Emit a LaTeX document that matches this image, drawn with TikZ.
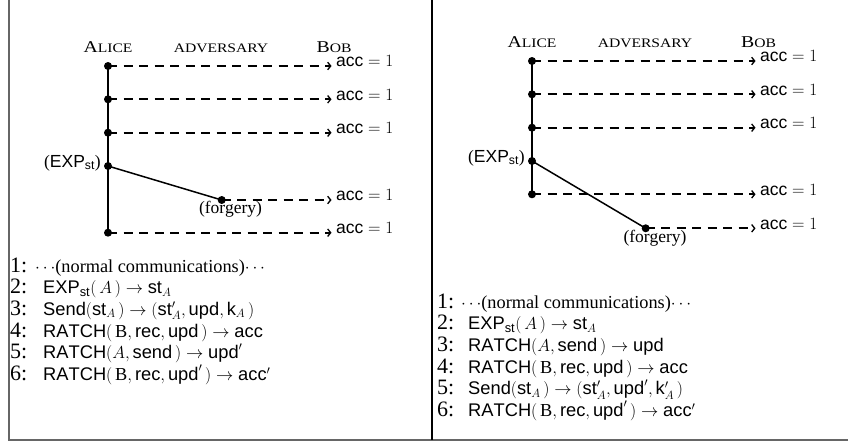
\documentclass[tikz,border=0pt]{standalone}
\usepackage{fontspec}
\setmainfont{Liberation Serif}
\setsansfont{Liberation Sans}
\usetikzlibrary{arrows.meta}

% role headings in (imitated) small capitals
\newcommand{\capbig}[1]{{\fontsize{16.5}{16.5}\selectfont #1}}
\newcommand{\capsmall}[1]{{\fontsize{13}{13}\selectfont #1}}
\newcommand{\rolename}[1]{\scalebox{1.2}[1]{#1}}

\begin{document}
\begin{tikzpicture}[x=1pt,y=-1pt,
  every node/.style={inner sep=0pt},
  dot/.style={circle,fill=black,inner sep=0pt,minimum size=8pt},
  role/.style={anchor=base},
  msg/.style={line width=1.7pt,dash pattern=on 9pt off 6.5pt,
              -{Straight Barb[length=3pt,width=7.5pt,line width=1.3pt]},shorten >=4.5pt},
  life/.style={line width=2pt},
  leak/.style={line width=1.5pt},
  accl/.style={anchor=base west,font=\fontsize{17.5}{20}\selectfont},
  evt/.style={font=\fontsize{17.5}{20}\selectfont},
  num/.style={anchor=base west,font=\fontsize{22}{22}\selectfont},
  line/.style={anchor=base west,font=\fontsize{18.3}{21}\selectfont}]
\useasboundingbox (0,0) rectangle (848,442);

% frame
\coordinate (fTL) at (8.5,0);
\coordinate (fBL) at (8.5,440);
\coordinate (fBR) at (848,440);
\coordinate (fTM) at (432,0);
\coordinate (fBM) at (432,440);
\draw[line width=2pt,black!60] (fTL) -- (fBL) -- (fBR);
\draw[line width=1.2pt] (fTM) -- (fBM);

% ---------------- left panel ----------------
\node[role] (Lal) at (108,52) {\rolename{\capbig{A}\capsmall{LICE}}};
\node[role] (Lad) at (221,52) {\rolename{\capsmall{ADVERSARY}}};
\node[role] (Lbo) at (334,52) {\rolename{\capbig{B}\capsmall{OB}}};

\node[dot] (L1) at (108,66) {};
\node[dot] (L2) at (108,99.3) {};
\node[dot] (L3) at (108,132.7) {};
\node[dot] (L4) at (108,166) {};
\node[dot] (L5) at (108,232.7) {};
\node[dot] (Lf) at (221.7,200) {};

\node[accl] (La1) at (336,66.7) {$\mathsf{acc}=1$};
\node[accl] (La2) at (336,100) {$\mathsf{acc}=1$};
\node[accl] (La3) at (336,133.4) {$\mathsf{acc}=1$};
\node[accl] (Laf) at (336,200.7) {$\mathsf{acc}=1$};
\node[accl] (La5) at (336,233.4) {$\mathsf{acc}=1$};

\node[evt,anchor=base east] (Lexp) at (101,167) {($\mathsf{EXP}_{\mathsf{st}}$)};
\node[evt,anchor=base] (Lforg) at (230.5,213.5) {(forgery)};

\draw[life] (L1.center) -- (L5.center);
\draw[leak] (L4.center) -- (Lf.center);
\foreach \d/\a in {L1/La1,L2/La2,L3/La3,Lf/Laf,L5/La5}
  \draw[msg] (\d.center) -- (\d -| \a.west);

% ---------------- right panel ----------------
\node[role] (Ral) at (532,47) {\rolename{\capbig{A}\capsmall{LICE}}};
\node[role] (Rad) at (645,47) {\rolename{\capsmall{ADVERSARY}}};
\node[role] (Rbo) at (758.5,47) {\rolename{\capbig{B}\capsmall{OB}}};

\node[dot] (R1) at (532,61) {};
\node[dot] (R2) at (532,94.3) {};
\node[dot] (R3) at (532,127.7) {};
\node[dot] (R4) at (532,161) {};
\node[dot] (R5) at (532,194.3) {};
\node[dot] (Rf) at (645.7,228.3) {};

\node[accl] (Ra1) at (760,61.7) {$\mathsf{acc}=1$};
\node[accl] (Ra2) at (760,95) {$\mathsf{acc}=1$};
\node[accl] (Ra3) at (760,128.4) {$\mathsf{acc}=1$};
\node[accl] (Ra5) at (760,195) {$\mathsf{acc}=1$};
\node[accl] (Raf) at (760,229) {$\mathsf{acc}=1$};

\node[evt,anchor=base east] (Rexp) at (525,162) {($\mathsf{EXP}_{\mathsf{st}}$)};
\node[evt,anchor=base] (Rforg) at (655,242) {(forgery)};

\draw[life] (R1.center) -- (R5.center);
\foreach \d/\a in {R1/Ra1,R2/Ra2,R3/Ra3,R5/Ra5,Rf/Raf}
  \draw[msg] (\d.center) -- (\d -| \a.west);
\draw[leak] (R4.center) -- (Rf.center);

% ---------------- step lists ----------------
\foreach \k/\y in {1/272,2/293.7,3/315.4,4/337.1,5/358.8,6/380.5}
  \node[num] (Ln\k) at (10,\y) {\k:};
\node[line] (Ls1) at (35,272) {$\cdots$(normal communications)$\cdots$};
\node[line] (Ls2) at (43,293.7) {$\mathsf{EXP}_{\mathsf{st}}(\,A\,)\rightarrow\mathsf{st}_{A}$};
\node[line] (Ls3) at (43,315.4) {$\mathsf{Send}(\mathsf{st}_{A}\,)\rightarrow(\mathsf{st}'_{A},\mathsf{upd},\mathsf{k}_{A}\,)$};
\node[line] (Ls4) at (43,337.1) {$\mathsf{RATCH}(\,\mathrm{B},\mathsf{rec},\mathsf{upd}\,)\rightarrow\mathsf{acc}$};
\node[line] (Ls5) at (43,358.8) {$\mathsf{RATCH}(A,\mathsf{send}\,)\rightarrow\mathsf{upd}'$};
\node[line] (Ls6) at (43,380.5) {$\mathsf{RATCH}(\,\mathrm{B},\mathsf{rec},\mathsf{upd}'\,)\rightarrow\mathsf{acc}'$};

\foreach \k/\y in {1/308,2/329.7,3/351.4,4/373.1,5/394.8,6/416.5}
  \node[num] (Rn\k) at (437,\y) {\k:};
\node[line] (Rs1) at (461,308) {$\cdots$(normal communications)$\cdots$};
\node[line] (Rs2) at (468,329.7) {$\mathsf{EXP}_{\mathsf{st}}(\,A\,)\rightarrow\mathsf{st}_{A}$};
\node[line] (Rs3) at (468,351.4) {$\mathsf{RATCH}(A,\mathsf{send}\,)\rightarrow\mathsf{upd}$};
\node[line] (Rs4) at (468,373.1) {$\mathsf{RATCH}(\,\mathrm{B},\mathsf{rec},\mathsf{upd}\,)\rightarrow\mathsf{acc}$};
\node[line] (Rs5) at (468,394.8) {$\mathsf{Send}(\mathsf{st}_{A}\,)\rightarrow(\mathsf{st}'_{A},\mathsf{upd}',\mathsf{k}'_{A}\,)$};
\node[line] (Rs6) at (468,416.5) {$\mathsf{RATCH}(\,\mathrm{B},\mathsf{rec},\mathsf{upd}'\,)\rightarrow\mathsf{acc}'$};
\end{tikzpicture}
\end{document}
